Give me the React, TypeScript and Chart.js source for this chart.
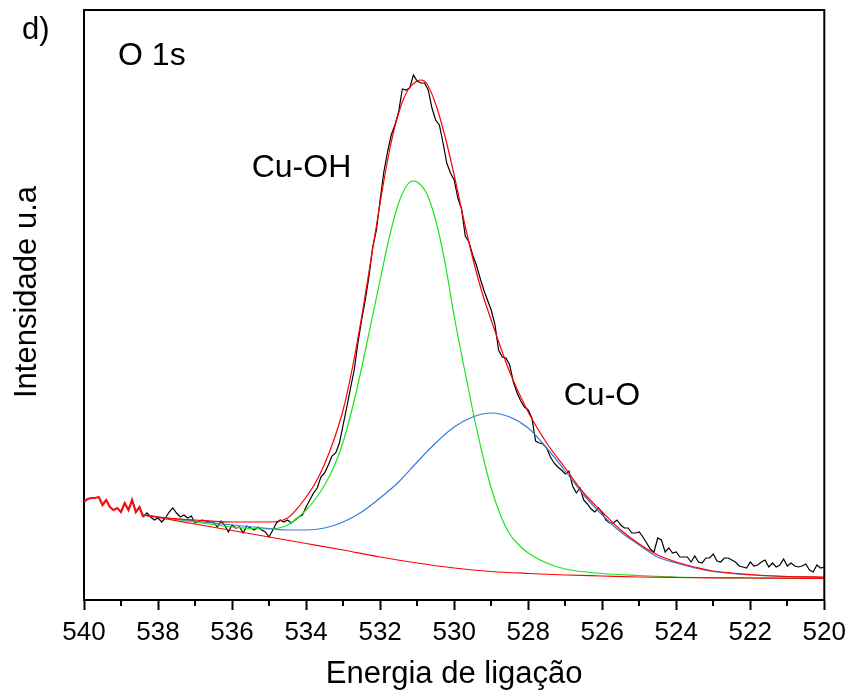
import React, { useEffect, useRef } from "react";
import { Chart, registerables } from "chart.js";

Chart.register(...registerables);

const FONT = "'Liberation Sans', Arial, Helvetica, sans-serif";

// O 1s spectrum outside the fitted window (binding energy eV, intensity a.u.)
const spectrumLead: [number, number][] = [
  [540.0, 98], [539.9, 101], [539.8, 102], [539.7, 102], [539.6, 103], [539.5, 95],
  [539.4, 100], [539.3, 93], [539.2, 90], [539.1, 92], [539.0, 88], [538.9, 97],
  [538.8, 90], [538.7, 100], [538.6, 88], [538.5, 93], [538.4, 83],
];

// O 1s spectrum inside the fitted window
const spectrum: [number, number][] = [
  [538.4, 83], [538.3, 87], [538.2, 83], [538.1, 80], [538.0, 82], [537.9, 78], [537.8, 82],
  [537.7, 88], [537.6, 92], [537.5, 87], [537.4, 83], [537.3, 85], [537.2, 82], [537.1, 84],
  [537.0, 77], [536.9, 79], [536.8, 80], [536.7, 79], [536.6, 78], [536.5, 78], [536.4, 73],
  [536.3, 79], [536.2, 75], [536.1, 68], [536.0, 75], [535.9, 72], [535.8, 73], [535.7, 67],
  [535.6, 74], [535.5, 72], [535.4, 70], [535.3, 73], [535.2, 70], [535.1, 68], [535.0, 63],
  [534.9, 70], [534.8, 77], [534.7, 80], [534.6, 78], [534.5, 80], [534.4, 77], [534.3, 80],
  [534.2, 83], [534.1, 85], [534.0, 93], [533.9, 100], [533.8, 107], [533.7, 112], [533.6, 123],
  [533.5, 127], [533.4, 135], [533.3, 144], [533.2, 147], [533.1, 157], [533.0, 175], [532.9, 193],
  [532.8, 212], [532.7, 230], [532.6, 257], [532.5, 280], [532.4, 300], [532.3, 324], [532.2, 353],
  [532.1, 370], [532.0, 400], [531.9, 428], [531.8, 448], [531.7, 465], [531.6, 475], [531.5, 488],
  [531.4, 511], [531.3, 510], [531.2, 512], [531.1, 525], [531.0, 519], [530.9, 517], [530.8, 517],
  [530.7, 510], [530.6, 492], [530.5, 480], [530.4, 475], [530.3, 457], [530.2, 437], [530.1, 427],
  [530.0, 420], [529.9, 402], [529.8, 391], [529.7, 364], [529.6, 358], [529.5, 345], [529.4, 335],
  [529.3, 322], [529.2, 310], [529.1, 300], [529.0, 290], [528.9, 276], [528.8, 250], [528.7, 243],
  [528.6, 242], [528.5, 235], [528.4, 218], [528.3, 207], [528.2, 199], [528.1, 193], [528.0, 190],
  [527.9, 182], [527.8, 159], [527.7, 157], [527.6, 156], [527.5, 152], [527.4, 143], [527.3, 137],
  [527.2, 133], [527.1, 130], [527.0, 126], [526.9, 129], [526.8, 114], [526.7, 107], [526.6, 112],
  [526.5, 100], [526.4, 96], [526.3, 91], [526.2, 88], [526.1, 92], [526.0, 87], [525.9, 80],
  [525.8, 77], [525.7, 77], [525.6, 80], [525.5, 75], [525.4, 72], [525.3, 72], [525.2, 67],
  [525.1, 67], [525.0, 68], [524.9, 63], [524.8, 57], [524.7, 51], [524.6, 48], [524.5, 62],
  [524.4, 60], [524.3, 48], [524.2, 52], [524.1, 47], [524.0, 48], [523.9, 43], [523.8, 43],
  [523.7, 43], [523.6, 38], [523.5, 44], [523.4, 38], [523.3, 37], [523.2, 42], [523.1, 42],
  [523.0, 46], [522.9, 39], [522.8, 38], [522.7, 42], [522.6, 42], [522.5, 40], [522.4, 38],
  [522.3, 34], [522.2, 33], [522.1, 32], [522.0, 38], [521.9, 34], [521.8, 35], [521.7, 38],
  [521.6, 40], [521.5, 33], [521.4, 37], [521.3, 33], [521.2, 35], [521.1, 41], [521.0, 34],
  [520.9, 37], [520.8, 34], [520.7, 33], [520.6, 34], [520.5, 36], [520.4, 30], [520.3, 28],
  [520.2, 35], [520.1, 32], [520.0, 33],
];

// Fitted envelope
const envelope: [number, number][] = [
  [538.4, 85], [538, 83], [537, 80], [536, 78], [535, 78], [534.5, 82], [534.25, 91], [534, 103],
  [533.75, 117], [533.5, 136], [533.25, 160], [533, 190], [532.75, 232], [532.5, 283], [532.25, 340],
  [532, 397], [531.75, 449], [531.5, 487], [531.25, 510], [531, 519], [530.9, 520], [530.75, 517],
  [530.5, 496], [530.25, 464], [530, 425], [529.75, 382], [529.5, 342], [529.25, 308], [529, 280],
  [528.5, 228], [528, 188], [527.5, 157], [527, 132], [526.5, 107], [526, 88], [525.5, 70],
  [525, 56], [524.5, 45], [524, 38], [523.5, 33], [523, 29], [522, 25.5], [521, 23.5], [520, 23],
];

// Shirley background
const background: [number, number][] = [
  [538.4, 85], [538, 82.5], [537, 76], [536, 69.5], [535, 63], [534, 56.5], [533, 50], [532, 43],
  [531, 37], [530, 32], [529, 28.5], [528, 26.5], [527, 25], [526, 24], [525, 23], [524, 22.5],
  [523, 22.2], [522, 22], [521, 21.8], [520, 21.5],
];

// Cu-OH component (on background)
const cuOH: [number, number][] = [
  [538.4, 85], [538, 83], [537, 78], [536, 73], [535.5, 71.5], [535, 71], [534.5, 75], [534, 90],
  [533.75, 101], [533.5, 115], [533.25, 133], [533, 158], [532.75, 192], [532.5, 232], [532.25, 276],
  [532, 320], [531.75, 363], [531.5, 397], [531.25, 416], [531.1, 419], [531, 418], [530.75, 407],
  [530.5, 380], [530.25, 338], [530, 284], [529.75, 236], [529.5, 190], [529.25, 148], [529, 112],
  [528.75, 85], [528.5, 66], [528.25, 55], [528, 47], [527.5, 37], [527, 31], [526, 26.5],
  [525, 24.5], [524, 23], [522, 22], [520, 21.5],
];

// Cu-O component (on background)
const cuO: [number, number][] = [
  [538.4, 85], [538, 83], [537, 79], [536, 75], [535, 71.5], [534.5, 70], [534, 70], [533.5, 72],
  [533, 78], [532.5, 88], [532, 102], [531.5, 118], [531, 138], [530.5, 157], [530, 173],
  [529.5, 183], [529, 187], [528.5, 183], [528, 172], [527.5, 152], [527, 129], [526.5, 105],
  [526, 85], [525.5, 68], [525, 55], [524.5, 43], [524, 37], [523.5, 32], [523, 28.5],
  [522.5, 26.5], [522, 25], [521, 23.5], [520, 22.5],
];

const energyMin = 520;
const energyMax = 540;
const majorStep = 2;
const minorTicks = [539, 537, 535, 533, 531, 529, 527, 525, 523, 521];
const intensityMin = 0;
const intensityMax = 590;

const peakLabelTexts = ["O 1s", "Cu-OH", "Cu-O"];
const peakLabelEnergy = [539.08, 535.47, 527.04];
const peakLabelIntensity = [535, 423, 195];
const panelLetter = "d)";
const yTitle = "Intensidade u.a";

const toPoints = (arr: [number, number][]) => arr.map(([x, y]) => ({ x, y }));

const framePlugin = {
  id: "frameAndLabels",
  afterDraw(chart: any) {
    const { ctx, chartArea: a, scales } = chart;
    const xs = scales.x;
    const ys = scales.y;
    ctx.save();
    ctx.strokeStyle = "#000";
    ctx.lineWidth = 2;
    ctx.beginPath();
    ctx.moveTo(a.left - 1, a.top);
    ctx.lineTo(a.right, a.top);
    ctx.lineTo(a.right, a.bottom + 1);
    ctx.stroke();

    ctx.beginPath();
    for (const v of minorTicks) {
      const px = Math.round(xs.getPixelForValue(v));
      ctx.moveTo(px, a.bottom);
      ctx.lineTo(px, a.bottom + 6);
    }
    ctx.stroke();

    ctx.fillStyle = "#000";
    ctx.textAlign = "left";
    ctx.textBaseline = "alphabetic";
    ctx.font = `32px ${FONT}`;
    peakLabelTexts.forEach((t, i) => {
      ctx.fillText(t, xs.getPixelForValue(peakLabelEnergy[i]), ys.getPixelForValue(peakLabelIntensity[i]));
    });
    ctx.font = `31px ${FONT}`;
    ctx.fillText(panelLetter, 22, 39);

    // vertical axis title
    ctx.translate(27, 292);
    ctx.rotate(-Math.PI / 2);
    ctx.textAlign = "center";
    ctx.textBaseline = "middle";
    ctx.font = `31px ${FONT}`;
    ctx.fillText(yTitle, 0, 0);
    ctx.restore();
  },
};

export default function App() {
  const canvasRef = useRef<HTMLCanvasElement | null>(null);

  useEffect(() => {
    if (!canvasRef.current) return;
    const fit = (data: [number, number][], color: string, width = 1.2) => ({
      data: toPoints(data),
      borderColor: color,
      borderWidth: width,
      pointRadius: 0,
      fill: false,
      cubicInterpolationMode: "monotone" as const,
    });
    const chart = new Chart(canvasRef.current, {
      type: "line",
      data: {
        datasets: [
          fit(envelope, "#ff0000"),
          fit(background, "#ff0000"),
          fit(cuO, "#3a7bdc"),
          fit(cuOH, "#19e619"),
          {
            data: toPoints(spectrumLead),
            borderColor: "#ee1111",
            borderWidth: 2.2,
            pointRadius: 0,
            tension: 0,
          },
          {
            data: toPoints(spectrum),
            borderColor: "#000000",
            borderWidth: 1.2,
            pointRadius: 0,
            tension: 0,
          },
        ],
      },
      options: {
        animation: false,
        responsive: false,
        devicePixelRatio: 1,
        layout: { padding: { top: 10, right: 27, bottom: 0, left: 0 } },
        plugins: { legend: { display: false }, tooltip: { enabled: false } },
        scales: {
          x: {
            type: "linear",
            reverse: true,
            min: energyMin,
            max: energyMax,
            afterFit: (s: any) => {
              s.height = 96;
            },
            border: { display: true, color: "#000", width: 2 },
            grid: {
              display: true,
              drawOnChartArea: false,
              drawTicks: true,
              tickLength: 10,
              tickWidth: 2,
              tickColor: "#000",
            },
            ticks: {
              stepSize: majorStep,
              autoSkip: false,
              maxRotation: 0,
              color: "#000",
              padding: 7,
              font: { family: FONT, size: 26 },
            },
            title: {
              display: true,
              text: "Energia de ligação",
              color: "#000",
              font: { family: FONT, size: 31 },
              padding: { top: 0, bottom: 3 },
            },
          },
          y: {
            type: "linear",
            min: intensityMin,
            max: intensityMax,
            afterFit: (s: any) => {
              s.width = 84;
            },
            border: { display: true, color: "#000", width: 2 },
            grid: { display: false, drawTicks: false },
            ticks: { display: false },
            title: { display: false },
          },
        },
      },
      plugins: [framePlugin],
    });
    return () => chart.destroy();
  }, []);

  return (
    <div style={{ position: "fixed", left: 0, top: 0, width: 853, height: 696, background: "#fff" }}>
      <canvas ref={canvasRef} width={853} height={696} style={{ display: "block" }} />
    </div>
  );
}
